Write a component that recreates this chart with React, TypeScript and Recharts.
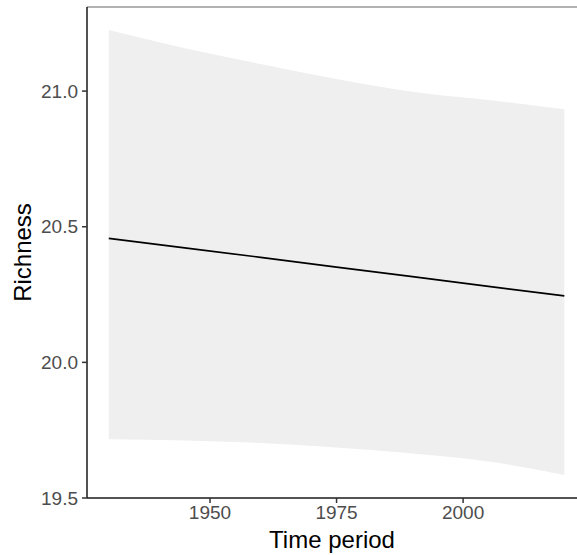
import { Area, ComposedChart, Line, ReferenceLine, XAxis, YAxis } from "recharts";

// values (model fit + confidence ribbon)
const years = [1930, 1945, 1960, 1975, 1990, 2005, 2020];
const fit = [20.457, 20.422, 20.387, 20.351, 20.316, 20.28, 20.245];
const lower = [19.717, 19.712, 19.703, 19.686, 19.664, 19.635, 19.585];
const upper = [21.225, 21.158, 21.1, 21.045, 20.998, 20.967, 20.933];

const xTicks = [1950, 1975, 2000];
const yTicks = [19.5, 20.0, 20.5, 21.0];
const X_DOMAIN: [number, number] = [1925.7, 2022.5];
const Y_DOMAIN: [number, number] = [19.5, 21.31];

const rows = years.map((year, i) => ({
  year,
  fit: fit[i],
  band: [lower[i], upper[i]] as [number, number],
}));

const FONT = '"Liberation Sans", Arial, sans-serif';
const tickStyle = { fill: "#4d4d4d", fontSize: 19, fontFamily: FONT };

export default function App() {
  return (
    <div
      style={{
        position: "absolute",
        left: 0,
        top: 0,
        width: 577,
        height: 555,
        overflow: "hidden",
        background: "#fff",
      }}
    >
      <ComposedChart
        width={577}
        height={555}
        data={rows}
        margin={{ top: 7, right: 0, bottom: 0, left: 0 }}
      >
        <XAxis
          dataKey="year"
          type="number"
          domain={X_DOMAIN}
          ticks={xTicks}
          allowDataOverflow
          height={57}
          stroke="#1a1a1a"
          strokeWidth={1.5}
          tickSize={5}
          tickMargin={3}
          tick={tickStyle}
          tickLine={{ stroke: "#333", strokeWidth: 1.5 }}
          label={{
            value: "Time period",
            position: "insideBottom",
            offset: 7,
            style: { fill: "#000", fontSize: 24, fontFamily: FONT },
          }}
        />
        <YAxis
          type="number"
          domain={Y_DOMAIN}
          ticks={yTicks}
          allowDataOverflow
          width={87}
          stroke="#1a1a1a"
          strokeWidth={1.5}
          tickSize={5}
          tickMargin={4}
          tick={tickStyle}
          tickLine={{ stroke: "#333", strokeWidth: 1.5 }}
          tickFormatter={(v: number) => v.toFixed(1)}
          label={{
            value: "Richness",
            angle: -90,
            position: "insideLeft",
            offset: 22,
            style: { fill: "#000", fontSize: 24, fontFamily: FONT, textAnchor: "middle" },
          }}
        />
        <ReferenceLine y={Y_DOMAIN[1]} stroke="#999" strokeWidth={1.5} ifOverflow="visible" />
        <Area
          dataKey="band"
          type="monotone"
          stroke="none"
          fill="#efefef"
          fillOpacity={1}
          isAnimationActive={false}
        />
        <Line
          dataKey="fit"
          type="linear"
          stroke="#000"
          strokeWidth={1.6}
          dot={false}
          isAnimationActive={false}
        />
      </ComposedChart>
    </div>
  );
}
